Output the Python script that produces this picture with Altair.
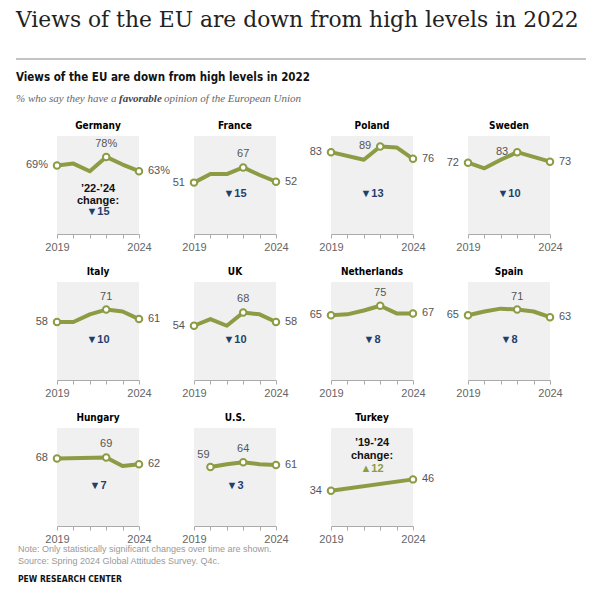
import altair as alt
import pandas as pd

# ---------------- data ----------------
countries = ["Germany", "France", "Poland", "Sweden", "Italy", "UK",
             "Netherlands", "Spain", "Hungary", "U.S.", "Turkey"]
years = [2019, 2020, 2021, 2022, 2023, 2024]

germany = [69, 71, 63, 78, 70, 63]
france = [51, 60, 60, 67, 59, 52]
poland = [83, None, 75, 89, 88, 76]
sweden = [72, 66, 75, 83, 78, 73]
italy = [58, 58, 66, 71, 69, 61]
uk = [54, 61, 54, 68, 66, 58]
netherlands = [65, 66, 70, 75, 67, 67]
spain = [65, 69, 72, 71, 69, 63]
hungary = [68, None, None, 69, 60, 62]
us = [None, 59, 62, 64, 62, 61]
turkey = [34, None, None, None, None, 46]

change_pts = [-15, -15, -13, -10, -10, -10, -8, -8, -7, -3, 12]
series = [germany, france, poland, sweden, italy, uk,
          netherlands, spain, hungary, us, turkey]

peak_left = ["Poland", "Sweden"]   # peak label drawn to the left of the point
first_above = ["U.S."]             # first label drawn above the point
pct_suffix = ["Germany"]

rows = []
for c, vals, ch in zip(countries, series, change_pts):
    present = [(y, v) for y, v in zip(years, vals) if v is not None]
    fy, ly = present[0][0], present[-1][0]
    for y, v in present:
        if y == fy:
            pos = "topleft" if c in first_above else "left"
        elif y == ly:
            pos = "right"
        elif y == 2022:
            pos = "left" if c in peak_left else "top"
        else:
            pos = ""
        label = (f"{v}%" if c in pct_suffix else str(v)) if pos else ""
        rows.append(dict(country=c, year=y, value=v, label=label, pos=pos,
                         change=ch,
                         change_text=("▲" if ch > 0 else "▼") + str(abs(ch))))
df = pd.DataFrame(rows)

# ---------------- style ----------------
GREEN = "#8c9c45"
BLUE = "#1f3f6e"
GREY_BG = "#f0f0f0"
SANS = "Liberation Sans"
COND = "'Liberation Sans Narrow', 'DejaVu Sans Condensed', 'Roboto Condensed', Roboto, sans-serif"
SERIF = "DejaVu Serif"
W, H = 82, 98

X = alt.X("year:Q",
          scale=alt.Scale(domain=[2019, 2024], nice=False, zero=False),
          axis=alt.Axis(values=years, format="d", title=None, grid=False,
                        labelExpr="(datum.value == 2019 || datum.value == 2024) ? datum.label : ''",
                        domainColor="#aaaaaa", tickColor="#aaaaaa", tickSize=4,
                        labelColor="#666666", labelFontSize=11, labelFont=SANS,
                        labelPadding=3, labelFlush=False, labelOverlap=False,
                        labelBound=False))
Y = alt.Y("value:Q", scale=alt.Scale(domain=[-3, 100], nice=False, zero=False),
          axis=None)

base = alt.Chart()

line = base.mark_line(color=GREEN, strokeWidth=4, strokeJoin="round",
                      strokeCap="round").encode(x=X, y=Y)
pts = base.transform_filter("datum.label != ''").mark_circle(
    fill="white", stroke=GREEN, strokeWidth=2, size=42, opacity=1).encode(x=X, y=Y)

def lab(pos, **kw):
    return base.transform_filter(f"datum.pos == '{pos}'").mark_text(
        font=SANS, fontSize=11, color="#555555", **kw).encode(x=X, y=Y, text="label:N")

lab_left = lab("left", align="right", dx=-9)
lab_right = lab("right", align="left", dx=9)
lab_top = lab("top", align="center", dy=-13)
lab_tl = lab("topleft", align="center", dx=-7, dy=-12)

chg_color = alt.condition("datum.change > 0", alt.value(GREEN), alt.value(BLUE))

chg_main = base.transform_filter(
    "datum.year == 2024 && datum.country != 'Germany' && datum.country != 'Turkey'"
).mark_text(font=SANS, fontSize=11, fontWeight="bold", align="center", baseline="middle").encode(
    x=alt.value(W / 2), y=alt.value(58), text="change_text:N", color=chg_color)

ger_head = base.transform_filter("datum.year == 2024 && datum.country == 'Germany'").mark_text(
    font=SANS, fontSize=11, fontWeight="bold", align="center", baseline="top",
    lineBreak="\n", lineHeight=12, color="#111111").encode(
    x=alt.value(W / 2), y=alt.value(47), text=alt.value("’22-’24\nchange:"))
ger_val = base.transform_filter("datum.year == 2024 && datum.country == 'Germany'").mark_text(
    font=SANS, fontSize=11, fontWeight="bold", align="center", baseline="middle").encode(
    x=alt.value(W / 2), y=alt.value(76), text="change_text:N", color=chg_color)

tur_head = base.transform_filter("datum.year == 2024 && datum.country == 'Turkey'").mark_text(
    font=SANS, fontSize=11, fontWeight="bold", align="center", baseline="top",
    lineBreak="\n", lineHeight=12.5, color="#111111").encode(
    x=alt.value(W / 2), y=alt.value(9), text=alt.value("’19-’24\nchange:"))
tur_val = base.transform_filter("datum.year == 2024 && datum.country == 'Turkey'").mark_text(
    font=SANS, fontSize=11, fontWeight="bold", align="center", baseline="middle").encode(
    x=alt.value(W / 2), y=alt.value(41), text="change_text:N", color=chg_color)

panel = alt.layer(line, pts, lab_left, lab_right, lab_top, lab_tl,
                  chg_main, ger_head, ger_val, tur_head, tur_val).properties(
    width=W, height=H, view=alt.ViewBackground(fill=GREY_BG, stroke=None))

grid = panel.facet(
    data=df,
    facet=alt.Facet("country:N", sort=countries,
                    header=alt.Header(title=None, labelFontWeight="bold", labelFontSize=10,
                                      labelFont=COND, labelColor="#000000", labelPadding=5)),
    columns=4,
    spacing={"row": 48, "column": 55},
    bounds="flush",
).resolve_scale(x="independent").resolve_axis(x="independent")

# ---------------- header / footer text ----------------
hb = alt.Chart(pd.DataFrame({"k": [0]}))
LX = -41
t_big = hb.mark_text(text="Views of the EU are down from high levels in 2022", font=SERIF,
                     fontSize=21.8, color="#222222", align="left", baseline="top").encode(
    x=alt.value(LX), y=alt.value(0))
t_rule = hb.mark_rule(color="#888888", strokeWidth=1).encode(
    x=alt.value(LX), x2=alt.value(529), y=alt.value(49))
t_bold = hb.mark_text(text="Views of the EU are down from high levels in 2022", font=COND,
                      fontSize=11.5, fontWeight="bold", color="#111111", align="left",
                      baseline="middle").encode(x=alt.value(LX), y=alt.value(68))
sub_style = dict(font="Liberation Serif", fontSize=11, fontStyle="italic", color="#666666",
                 align="left", baseline="middle")
t_sub1 = hb.mark_text(text="% who say they have a", **sub_style).encode(
    x=alt.value(LX), y=alt.value(89))
t_sub2 = hb.mark_text(text="favorable", font="Liberation Serif", fontSize=11, fontStyle="italic",
                      fontWeight="bold", color="#444444", align="left", baseline="middle").encode(
    x=alt.value(LX + 103), y=alt.value(89))
t_sub3 = hb.mark_text(text="opinion of the European Union", **sub_style).encode(
    x=alt.value(LX + 148), y=alt.value(89))
foot_style = dict(font=SANS, fontSize=9, color="#999999", align="left", baseline="middle")
t_note = hb.mark_text(text="Note: Only statistically significant changes over time are shown.",
                      **foot_style).encode(x=alt.value(LX + 2), y=alt.value(539))
t_src = hb.mark_text(text="Source: Spring 2024 Global Attitudes Survey. Q4c.",
                     **foot_style).encode(x=alt.value(LX + 2), y=alt.value(551))
t_pew = hb.mark_text(text="PEW RESEARCH CENTER", font=COND, fontSize=8.5, fontWeight="bold",
                     color="#111111", align="left", baseline="middle").encode(
    x=alt.value(LX + 2), y=alt.value(569))

header = alt.layer(t_big, t_rule, t_bold, t_sub1, t_sub2, t_sub3, t_note, t_src, t_pew).properties(
    width=W, height=116)

chart = alt.vconcat(header, grid, spacing=10, bounds="flush").properties(
    padding={"left": 7, "top": 2, "right": 5, "bottom": 5}
).configure_view(stroke=None)

chart.save("out.html", embed_options={"renderer": "svg", "actions": False})
